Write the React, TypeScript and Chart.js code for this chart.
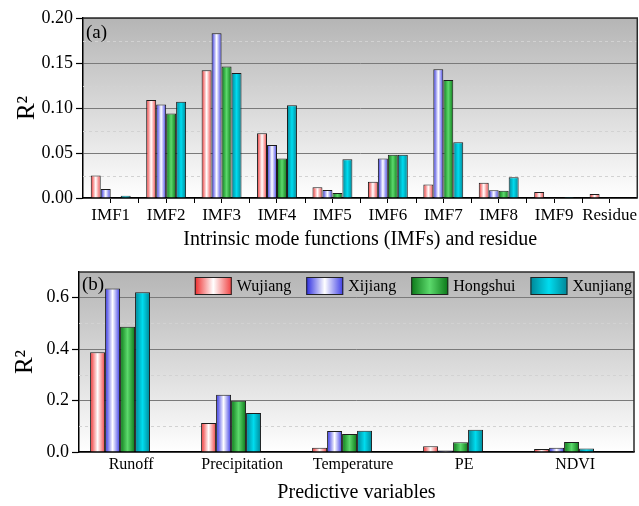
import React, { useEffect, useRef } from 'react';
import { Chart, registerables } from 'chart.js';

Chart.register(...registerables);

// ---------------- DATA ----------------
const SERIES_NAMES = ['Wujiang', 'Xijiang', 'Hongshui', 'Xunjiang'];

// Panel (a): intrinsic mode functions and residue
const IMF_CATEGORIES = ['IMF1', 'IMF2', 'IMF3', 'IMF4', 'IMF5', 'IMF6', 'IMF7', 'IMF8', 'IMF9', 'Residue'];
const IMF_WUJIANG = [0.025, 0.109, 0.142, 0.072, 0.012, 0.018, 0.015, 0.017, 0.0067, 0.0044];
const IMF_XIJIANG = [0.010, 0.104, 0.183, 0.059, 0.009, 0.044, 0.143, 0.0085, 0, 0.0007];
const IMF_HONGSHUI = [0, 0.094, 0.146, 0.044, 0.0056, 0.048, 0.131, 0.008, 0, 0];
const IMF_XUNJIANG = [0.0026, 0.107, 0.139, 0.103, 0.043, 0.048, 0.062, 0.023, 0.001, 0];
const IMF_Y_TICKS = [0, 0.05, 0.1, 0.15, 0.2];
const IMF_Y_MINOR = [0.025, 0.075, 0.125, 0.175];

// Panel (b): predictive variables
const VAR_CATEGORIES = ['Runoff', 'Precipitation', 'Temperature', 'PE', 'NDVI'];
const VAR_WUJIANG = [0.388, 0.113, 0.017, 0.022, 0.012];
const VAR_XIJIANG = [0.636, 0.223, 0.082, 0.006, 0.017];
const VAR_HONGSHUI = [0.487, 0.199, 0.070, 0.038, 0.039];
const VAR_XUNJIANG = [0.621, 0.152, 0.083, 0.087, 0.014];
const VAR_Y_TICKS = [0, 0.2, 0.4, 0.6];
const VAR_Y_MINOR = [0.1, 0.3, 0.5];

// ---------------- STYLES ----------------
const FONT = "'Liberation Serif', 'Times New Roman', serif";
const SERIES_STOPS: [number, string][][] = [
  [[0, '#ee2a2a'], [0.5, '#ffffff'], [1, '#f04040']],
  [[0, '#2a2ae0'], [0.5, '#ffffff'], [1, '#3c3ce6']],
  [[0, '#0b7818'], [0.5, '#5cd96c'], [1, '#0b7818']],
  [[0, '#008596'], [0.5, '#00dcef'], [1, '#008596']],
];

type Panel = {
  tag: string;
  categories: string[];
  values: number[][];
  yTicks: number[];
  yMinor: number[];
  yMax: number;
  yDigits: number;
  xMin: number;
  xMax: number;
  xTicks: number[];
  xMinorTicks: number[];
  xLabel: (v: number) => string;
  xTitle: string;
  catPct: number;
  yWidth: number;
  xHeight: number;
  padTop: number;
  padRight: number;
  xTickMarks: boolean;
  yTitlePad: number;
  legend: boolean;
  tagDy: number;
};

const PANEL_A: Panel = {
  tag: '(a)',
  categories: IMF_CATEGORIES,
  values: [IMF_WUJIANG, IMF_XIJIANG, IMF_HONGSHUI, IMF_XUNJIANG],
  yTicks: IMF_Y_TICKS,
  yMinor: IMF_Y_MINOR,
  yMax: 0.2,
  yDigits: 2,
  xMin: -0.5,
  xMax: IMF_CATEGORIES.length - 0.5,
  xTicks: IMF_CATEGORIES.map((_, i) => i),
  xMinorTicks: IMF_CATEGORIES.map((_, i) => i + 0.5).slice(0, -1),
  xLabel: (v) => IMF_CATEGORIES[Math.round(v)] ?? '',
  xTitle: 'Intrinsic mode functions (IMFs) and residue',
  catPct: 0.72,
  yWidth: 83,
  xHeight: 54,
  padTop: 18,
  padRight: 1,
  xTickMarks: true,
  yTitlePad: 12,
  legend: false,
  tagDy: 15,
};

const LABEL_SHIFT = 0.1;
const PANEL_B: Panel = {
  tag: '(b)',
  categories: VAR_CATEGORIES,
  values: [VAR_WUJIANG, VAR_XIJIANG, VAR_HONGSHUI, VAR_XUNJIANG],
  yTicks: VAR_Y_TICKS,
  yMinor: VAR_Y_MINOR,
  yMax: 0.7,
  yDigits: 1,
  xMin: -0.37,
  xMax: VAR_CATEGORIES.length - 0.37,
  xTicks: VAR_CATEGORIES.map((_, i) => i + LABEL_SHIFT),
  xMinorTicks: [],
  xLabel: (v) => VAR_CATEGORIES[Math.round(v - LABEL_SHIFT)] ?? '',
  xTitle: 'Predictive variables',
  catPct: 0.54,
  yWidth: 79,
  xHeight: 54,
  padTop: 20,
  padRight: 5,
  xTickMarks: false,
  yTitlePad: 10,
  legend: true,
  tagDy: 13,
};

function makeGradient(ctx: CanvasRenderingContext2D, x0: number, x1: number, stops: [number, string][]) {
  const g = ctx.createLinearGradient(x0, 0, x1, 0);
  stops.forEach(([o, c]) => g.addColorStop(o, c));
  return g;
}

function makeDecoPlugin(p: Panel) {
  return {
    id: 'panelDeco' + p.tag,
    beforeDraw(chart: any) {
      const { ctx, chartArea: a } = chart;
      const g = ctx.createLinearGradient(0, a.top, 0, a.bottom);
      g.addColorStop(0, '#b5b5b5');
      g.addColorStop(0.5, '#d9d9d9');
      g.addColorStop(1, '#ffffff');
      ctx.save();
      ctx.fillStyle = g;
      ctx.fillRect(a.left, a.top, a.right - a.left, a.bottom - a.top);
      ctx.restore();
    },
    beforeDatasetsDraw(chart: any) {
      const { ctx, chartArea: a } = chart;
      const y = chart.scales.y;
      const x = chart.scales.x;
      ctx.save();
      ctx.strokeStyle = '#d2d2d2';
      ctx.lineWidth = 1;
      ctx.setLineDash([3, 3]);
      p.yMinor.forEach((v) => {
        const py = Math.round(y.getPixelForValue(v)) + 0.5;
        ctx.beginPath();
        ctx.moveTo(a.left, py);
        ctx.lineTo(a.right, py);
        ctx.stroke();
      });
      ctx.setLineDash([]);
      ctx.strokeStyle = '#000';
      p.xMinorTicks.forEach((v) => {
        const px = Math.round(x.getPixelForValue(v)) + 0.5;
        ctx.beginPath();
        ctx.moveTo(px, a.bottom);
        ctx.lineTo(px, a.bottom + 5);
        ctx.stroke();
      });
      ctx.restore();
      chart.data.datasets.forEach((_: any, di: number) => {
        const meta = chart.getDatasetMeta(di);
        meta.data.forEach((el: any) => {
          const { x: bx, width } = el.getProps(['x', 'width'], true);
          const g = makeGradient(ctx, bx - width / 2, bx + width / 2, SERIES_STOPS[di]);
          el.options = Object.assign({}, el.options, { backgroundColor: g });
        });
      });
    },
    afterDatasetsDraw(chart: any) {
      const { ctx, chartArea: a } = chart;
      ctx.save();
      ctx.strokeStyle = '#2a2a2a';
      ctx.lineWidth = 1.5;
      ctx.beginPath();
      ctx.moveTo(a.left, a.top);
      ctx.lineTo(a.right, a.top);
      ctx.lineTo(a.right, a.bottom);
      ctx.stroke();
      ctx.fillStyle = '#000';
      ctx.font = `19px ${FONT}`;
      ctx.textBaseline = 'middle';
      ctx.textAlign = 'left';
      ctx.fillText(p.tag, a.left + 3, a.top + p.tagDy);
      if (p.legend) {
        ctx.font = `16px ${FONT}`;
        const boxW = 37, boxH = 18, gapText = 5, gapEntry = 15;
        const widths = SERIES_NAMES.map((n) => boxW + gapText + ctx.measureText(n).width);
        const total = widths.reduce((s, w) => s + w, 0) + gapEntry * (SERIES_NAMES.length - 1);
        let lx = a.right - 2 - total;
        const cy = a.top + 14;
        SERIES_NAMES.forEach((n, i) => {
          ctx.fillStyle = makeGradient(ctx, lx, lx + boxW, SERIES_STOPS[i]);
          ctx.fillRect(lx, cy - boxH / 2, boxW, boxH);
          ctx.strokeStyle = '#222';
          ctx.lineWidth = 1;
          ctx.strokeRect(lx + 0.5, cy - boxH / 2 + 0.5, boxW - 1, boxH - 1);
          ctx.fillStyle = '#000';
          ctx.fillText(n, lx + boxW + gapText, cy + 1);
          lx += widths[i] + gapEntry;
        });
      }
      ctx.restore();
    },
  };
}

function buildChart(canvas: HTMLCanvasElement, p: Panel): Chart {
  const datasets = SERIES_NAMES.map((name, si) => ({
    label: name,
    data: p.values[si].map((v, i) => ({ x: i, y: v })),
    backgroundColor: () => SERIES_STOPS[si][1][1],
    borderColor: '#1c1c1c',
    borderWidth: 1,
    categoryPercentage: p.catPct,
    barPercentage: 1,
  }));
  return new Chart(canvas, {
    type: 'bar',
    data: { datasets } as any,
    plugins: [makeDecoPlugin(p)],
    options: {
      responsive: false,
      animation: false,
      events: [],
      layout: { padding: { top: p.padTop, right: p.padRight, left: 0, bottom: 0 } },
      plugins: { legend: { display: false }, tooltip: { enabled: false } },
      scales: {
        x: {
          type: 'linear',
          min: p.xMin,
          max: p.xMax,
          offset: false,
          afterBuildTicks: (s: any) => {
            s.ticks = p.xTicks.map((v) => ({ value: v }));
          },
          afterFit: (s: any) => {
            s.height = p.xHeight;
          },
          grid: {
            display: p.xTickMarks,
            drawOnChartArea: false,
            drawTicks: p.xTickMarks,
            tickLength: 5,
            tickColor: '#000',
            tickWidth: 1,
            offset: false,
          },
          border: { display: true, color: '#000', width: 1.5 },
          ticks: {
            autoSkip: false,
            maxRotation: 0,
            minRotation: 0,
            padding: p.xTickMarks ? 2 : 3,
            color: '#000',
            font: { family: FONT, size: p.xTickMarks ? 17 : 16 },
            callback: (v: any) => p.xLabel(Number(v)),
          },
          title: {
            display: true,
            text: p.xTitle,
            color: '#000',
            font: { family: FONT, size: 20 },
            padding: { top: 0, bottom: p.xTickMarks ? 0 : 1 },
          },
        },
        y: {
          type: 'linear',
          min: 0,
          max: p.yMax,
          afterBuildTicks: (s: any) => {
            s.ticks = p.yTicks.map((v) => ({ value: v }));
          },
          afterFit: (s: any) => {
            s.width = p.yWidth;
          },
          grid: {
            color: '#7a7a7a',
            lineWidth: 1,
            drawTicks: true,
            tickLength: 7,
            tickColor: '#000',
            tickWidth: 1.2,
          },
          border: { display: true, color: '#000', width: 1.5 },
          ticks: {
            padding: 3,
            color: '#000',
            font: { family: FONT, size: 18 },
            callback: (v: any) => Number(v).toFixed(p.yDigits),
          },
          title: {
            display: true,
            text: 'R²',
            color: '#000',
            font: { family: FONT, size: 25 },
            padding: { top: p.yTitlePad, bottom: 0 },
          },
        },
      },
    } as any,
  });
}

export default function App() {
  const refA = useRef<HTMLCanvasElement>(null);
  const refB = useRef<HTMLCanvasElement>(null);
  useEffect(() => {
    const a = buildChart(refA.current as HTMLCanvasElement, PANEL_A);
    const b = buildChart(refB.current as HTMLCanvasElement, PANEL_B);
    return () => {
      a.destroy();
      b.destroy();
    };
  }, []);
  return (
    <div style={{ position: 'fixed', left: 0, top: 0, width: 639, height: 506, background: '#fff' }}>
      <canvas
        ref={refA}
        width={639}
        height={252}
        style={{ position: 'absolute', left: 0, top: 0, display: 'block', width: 639, height: 252 }}
      />
      <canvas
        ref={refB}
        width={639}
        height={254}
        style={{ position: 'absolute', left: 0, top: 252, display: 'block', width: 639, height: 254 }}
      />
    </div>
  );
}
